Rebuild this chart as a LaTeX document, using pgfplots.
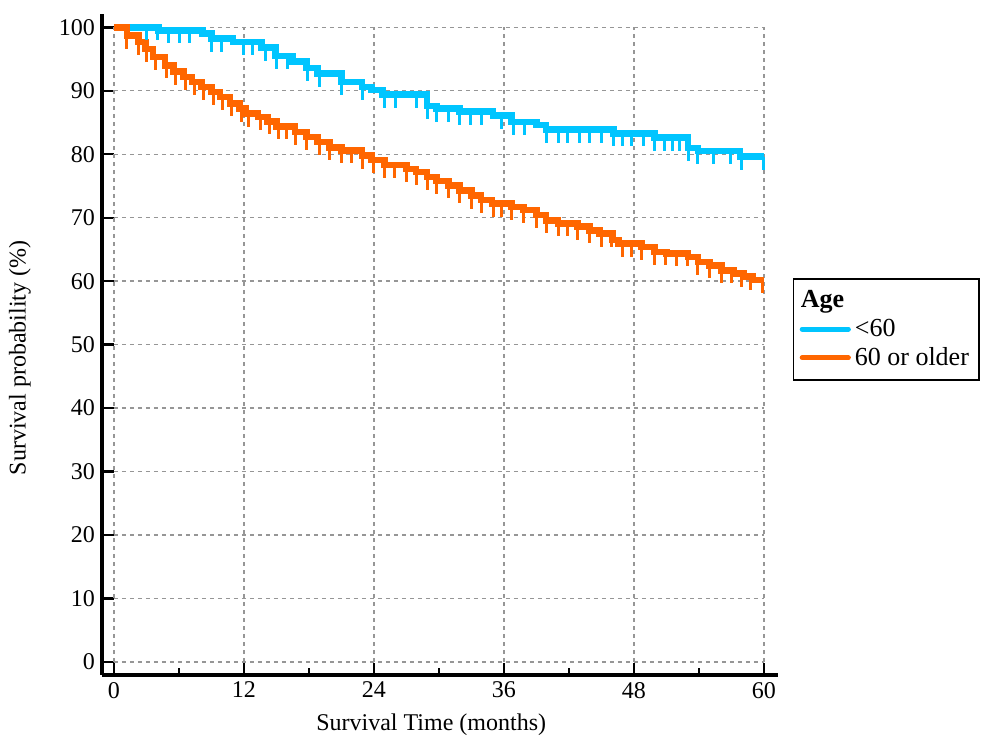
\documentclass[border=0pt]{standalone}
\usepackage{fontspec}
\setmainfont{Liberation Serif}
\usepackage{pgfplots}
\pgfplotsset{compat=1.18}

\definecolor{kmblue}{RGB}{0,197,255}
\definecolor{kmorange}{RGB}{255,102,0}
\definecolor{gridgray}{RGB}{150,150,150}

% censoring tick hanging below the curve
\pgfdeclareplotmark{cens}{%
  \pgfpathmoveto{\pgfpointorigin}%
  \pgfpathlineto{\pgfpoint{0pt}{-6.5pt}}%
  \pgfusepathqstroke}

\begin{document}
\begin{tikzpicture}
\begin{axis}[
  name=ax,
  at={(0,0)}, anchor=south west,
  scale only axis,
  width=338pt, height=330.5pt,
  xmin=-1.1, xmax=61.3,
  ymin=-2.05, ymax=102.1,
  axis x line*=bottom, axis y line*=left,
  axis line style={line width=1.6pt, black},
  xtick={0,12,...,60},
  minor xtick={6,18,30,42,54},
  ytick={0,10,...,100},
  tick align=inside,
  major tick length=6pt, minor tick length=3.3pt,
  every tick/.style={black, line width=1.2pt},
  tick label style={font=\fontsize{12}{14}\selectfont},
  /pgf/number format/assume math mode=true,
  xlabel={Survival Time (months)},
  ylabel={Survival probability (\%)},
  label style={font=\fontsize{12}{14}\selectfont},
  xlabel style={at={(axis description cs:0.487,-0.0756)}, anchor=center},
  ylabel style={at={(axis description cs:-0.1213,0.48)}, anchor=center},
  legend cell align=left,
  legend image code/.code={\draw[#1, line cap=round] (0pt,0pt) -- (23pt,0pt);},
  legend style={at={(axis description cs:1.022,0.6006)}, anchor=north west,
    draw=black, line width=0.8pt, font=\fontsize{13}{15}\selectfont,
    inner xsep=3pt, inner ysep=4pt, row sep=0pt},
]

% dashed grid, only over the data range
\pgfplotsinvokeforeach{0,10,...,100}{
  \draw[gridgray, line width=0.7pt, dash pattern=on 2pt off 2pt] (axis cs:0,#1) -- (axis cs:60,#1);
}
\pgfplotsinvokeforeach{0,12,...,60}{
  \draw[gridgray, line width=0.7pt, dash pattern=on 2pt off 2pt] (axis cs:#1,0) -- (axis cs:#1,100);
}

% <60
\addplot[const plot, kmblue, line width=3.3pt, forget plot] coordinates {
  (0,100)(4.1,99.5)(8.2,99.0)(9.0,98.2)(11.0,97.7)(13.6,96.8)(14.9,95.5)
  (16.5,94.6)(17.8,93.6)(18.8,92.7)(21.0,91.4)(22.9,90.6)(23.8,90.1)
  (24.8,89.4)(28.9,87.6)(29.8,87.2)(31.9,86.7)(35.0,86.1)(36.7,85.1)
  (39.0,84.6)(39.9,83.9)(46.1,83.3)(49.9,82.6)(53.0,81.0)(53.9,80.5)
  (57.8,79.6)(60,79.6)
};
\addplot[only marks, mark=cens, kmblue, mark options={line width=1.5pt}, forget plot] coordinates {
  (3.0,100)(4.0,100)(5.0,99.5)(6.1,99.5)(7.0,99.5)(9.0,98.2)(9.9,98.2)
  (12.0,97.7)(12.8,97.7)(14.0,96.8)(15.0,95.5)(16.0,95.5)(17.9,93.6)
  (19.0,92.7)(21.0,91.4)(22.9,90.6)(25.0,89.4)(26.0,89.4)(27.9,89.4)
  (28.9,87.6)(29.8,87.2)(30.9,87.2)(31.9,86.7)(32.9,86.7)(33.9,86.7)
  (35.8,86.1)(36.9,85.1)(37.9,85.1)(39.9,83.9)(41.0,83.9)(41.9,83.9)
  (43.0,83.9)(43.9,83.9)(45.0,83.9)(46.1,83.3)(46.9,83.3)(47.8,83.3)
  (48.9,83.3)(49.9,82.6)(50.8,82.6)(51.6,82.6)(52.2,82.6)(53.0,81.0)
  (53.9,80.5)(55.3,80.5)(56.9,80.5)(57.9,79.6)(60.0,79.6)
};

% 60 or older
\addplot[const plot, kmorange, line width=3.3pt, forget plot] coordinates {
  (0,100)(1.2,98.7)(2.25,97.7)(2.9,96.6)(3.6,95.3)(4.7,94.0)(5.5,93.0)
  (6.4,92.2)(7.2,91.4)(8.1,90.6)(9.0,89.8)(9.8,89.0)(10.7,88.0)(11.6,87.2)
  (12.2,86.4)(13.3,85.9)(14.2,85.2)(15.0,84.4)(16.7,83.5)(17.8,82.7)
  (18.8,81.9)(19.9,81.1)(21.0,80.6)(22.9,79.8)(23.8,79.1)(25.0,78.3)
  (27.0,77.7)(27.9,77.2)(28.9,76.4)(29.8,75.8)(30.9,75.1)(31.9,74.3)
  (33.0,73.5)(33.9,72.8)(34.9,72.2)(36.7,71.7)(37.8,71.2)(39.0,70.4)
  (39.9,69.6)(41.0,69.1)(42.8,68.6)(43.9,68.0)(44.8,67.5)(46.0,66.5)
  (46.6,65.9)(48.7,65.4)(49.9,64.6)(51.0,64.4)(53.0,63.8)(53.9,63.0)
  (55.0,62.5)(56.1,61.7)(57.2,61.2)(58.1,60.7)(59.0,60.2)(60,60.2)
};
\addplot[only marks, mark=cens, kmorange, mark options={line width=1.5pt}, forget plot] coordinates {
  (1.2,98.7)(2.3,97.7)(3.0,96.6)(3.8,95.3)(4.9,94.0)(5.7,93.0)(6.6,92.2)
  (7.4,91.4)(8.3,90.6)(9.2,89.8)(10.0,89.0)(10.9,88.0)(11.8,87.2)(12.4,86.4)
  (13.5,85.9)(14.4,85.2)(15.2,84.4)(15.9,84.4)(16.8,83.5)(17.8,82.7)
  (19.0,81.9)(19.9,81.1)(21.0,80.6)(21.9,80.6)(22.9,79.8)(24.0,79.1)
  (25.0,78.3)(25.9,78.3)(27.0,77.7)(27.9,77.2)(28.9,76.4)(29.8,75.8)
  (30.9,75.1)(31.9,74.3)(33.0,73.5)(33.9,72.8)(35.0,72.2)(35.8,72.2)
  (36.7,71.7)(37.8,71.2)(39.0,70.4)(39.9,69.6)(41.0,69.1)(41.9,69.1)
  (42.8,68.6)(43.9,68.0)(45.0,67.5)(45.9,67.5)(46.9,65.9)(47.8,65.9)
  (48.7,65.4)(49.9,64.6)(50.9,64.6)(51.9,64.4)(52.9,64.4)(53.9,63.0)
  (55.0,62.5)(56.1,61.7)(57.0,61.7)(57.9,61.2)(58.8,60.7)(59.9,60.2)
};

\addlegendimage{empty legend}
\addlegendentry{\makebox[0pt][l]{\hspace*{-27pt}\textbf{Age}}}
\addlegendimage{kmblue, line width=2.6pt}
\addlegendentry{<60}
\addlegendimage{kmorange, line width=2.6pt}
\addlegendentry{60 or older}
\end{axis}
\pgfresetboundingbox
\path (-51pt,-34.5pt) rectangle (440pt,337.5pt);
\end{tikzpicture}
\end{document}
